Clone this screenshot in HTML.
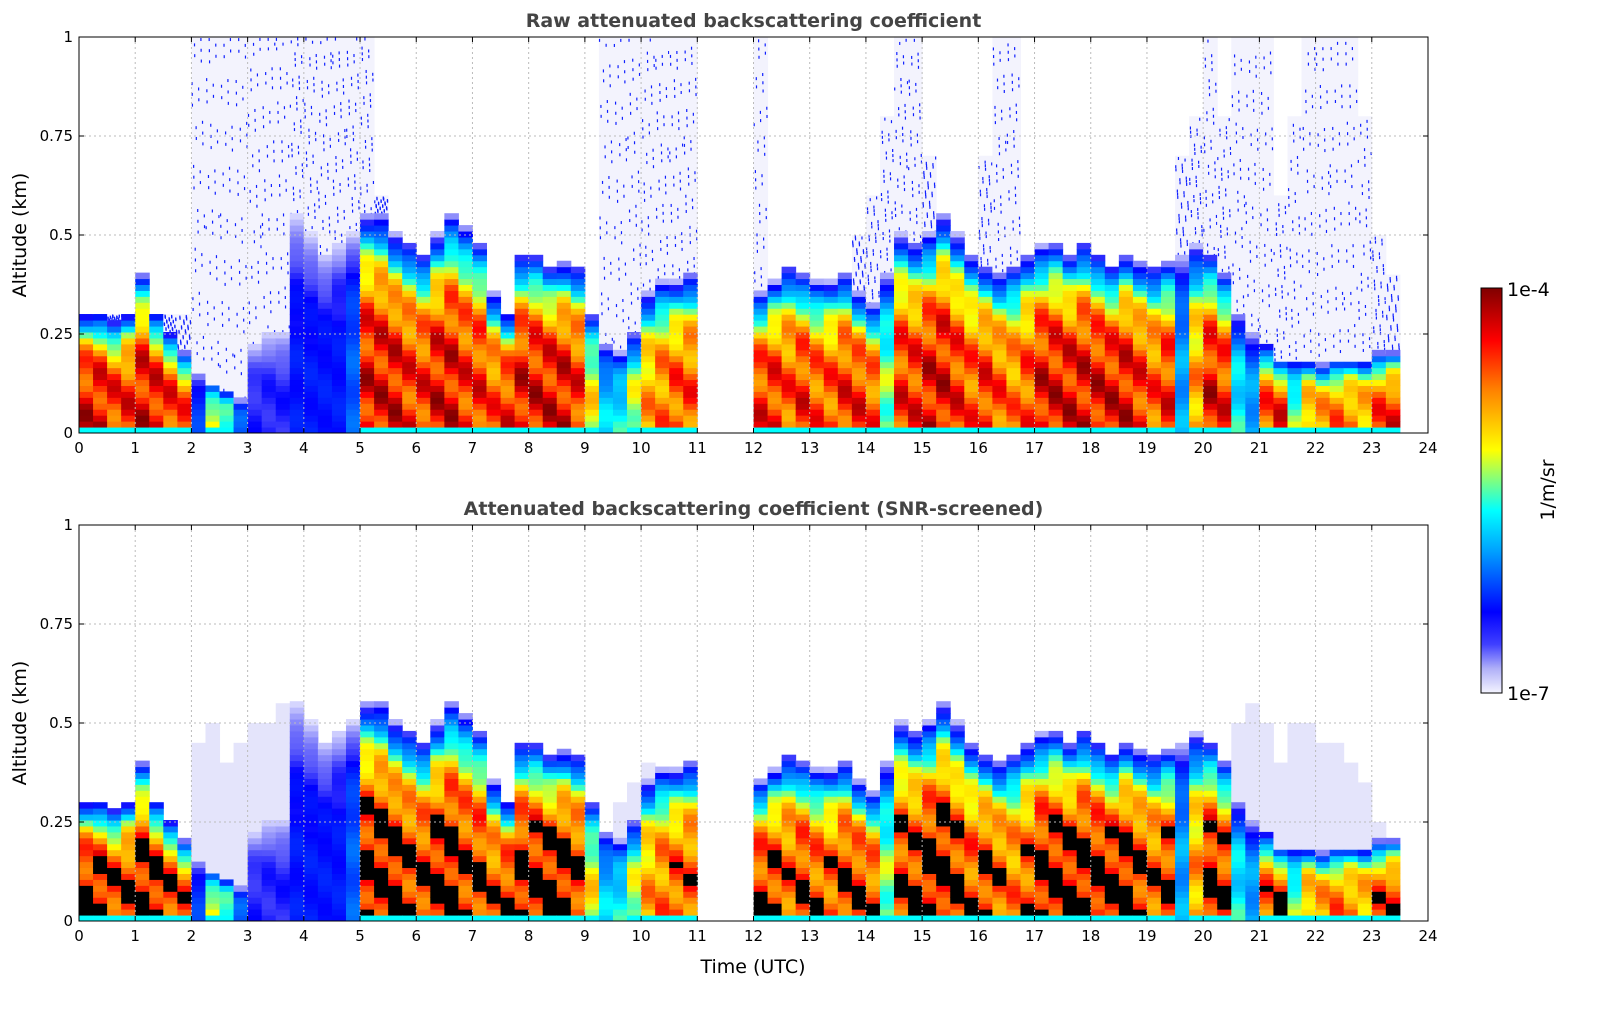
<!DOCTYPE html>
<html><head><meta charset="utf-8"><style>
body{margin:0;background:#fff;width:1621px;height:1020px;overflow:hidden;font-family:"Liberation Sans",sans-serif}
svg text{font-family:"DejaVu Sans","Liberation Sans",sans-serif}
</style></head><body>
<svg id="chart" width="1621" height="1020" xmlns="http://www.w3.org/2000/svg">
<defs>
<linearGradient id="jetg" x1="0" y1="1" x2="0" y2="0">
<stop offset="0" stop-color="#f4f4ff"/><stop offset="0.06" stop-color="#b0b0f8"/>
<stop offset="0.12" stop-color="#4040ff"/><stop offset="0.2" stop-color="#0000ff"/>
<stop offset="0.35" stop-color="#00a0ff"/><stop offset="0.45" stop-color="#00ffff"/>
<stop offset="0.6" stop-color="#ffff00"/><stop offset="0.75" stop-color="#ff8000"/>
<stop offset="0.87" stop-color="#ff0000"/><stop offset="1" stop-color="#800000"/>
</linearGradient>
</defs>
<g id="plots"></g>
</svg>
<script>
const times=[0,0.25,0.5,0.75,1,1.25,1.5,1.75,2,2.25,2.5,2.75,3,3.25,3.5,3.75,4,4.25,4.5,4.75,5,5.25,5.5,5.75,6,6.25,6.5,6.75,7,7.25,7.5,7.75,8,8.25,8.5,8.75,9,9.25,9.5,9.75,10,10.25,10.5,10.75,11,11.25,11.5,11.75,12,12.25,12.5,12.75,13,13.25,13.5,13.75,14,14.25,14.5,14.75,15,15.25,15.5,15.75,16,16.25,16.5,16.75,17,17.25,17.5,17.75,18,18.25,18.5,18.75,19,19.25,19.5,19.75,20,20.25,20.5,20.75,21,21.25,21.5,21.75,22,22.25,22.5,22.75,23,23.25];
const cloudTop=[0.3,0.3,0.28,0.3,0.4,0.3,0.25,0.2,0.15,0.12,0.1,0.08,0.22,0.25,0.25,0.55,0.5,0.45,0.48,0.5,0.55,0.55,0.5,0.48,0.45,0.5,0.55,0.52,0.48,0.35,0.3,0.45,0.45,0.42,0.43,0.42,0.3,0.22,0.2,0.25,0.35,0.38,0.38,0.4,0,0,0,0,0.35,0.38,0.42,0.4,0.38,0.38,0.4,0.35,0.32,0.4,0.5,0.48,0.5,0.55,0.5,0.45,0.42,0.4,0.42,0.45,0.47,0.48,0.45,0.48,0.45,0.42,0.45,0.43,0.42,0.43,0.45,0.47,0.45,0.4,0.3,0.25,0.22,0.18,0.18,0.18,0.17,0.18,0.18,0.18,0.2,0.2];
const coreValue=[1,1,0.95,0.95,1,1,0.95,0.9,0.25,0.7,0.6,0.3,0.15,0.15,0.15,0.2,0.2,0.2,0.2,0.3,1,1,1,0.95,0.95,1,1,0.95,0.95,0.9,0.95,1,1,1,1,0.95,0.7,0.45,0.5,0.65,0.8,0.85,0.9,0.9,0,0,0,0,0.95,0.95,0.9,0.95,0.9,0.9,0.95,0.95,0.9,0.6,0.95,0.95,1,1,0.95,0.9,0.95,0.9,0.85,0.9,1,1,1,1,1,1,1,0.95,0.9,0.95,0.4,0.8,1,0.95,0.5,0.4,0.9,0.95,0.6,0.8,0.8,0.85,0.85,0.8,0.9,0.95];
const noiseTop=[0.3,0.3,0.3,0.3,0.3,0.3,0.3,0.3,1,1,1,1,1,1,1,1,1,1,1,1,1,0.6,0.5,0,0,0,0,0,0,0,0,0,0,0,0,0,0,1,1,1,1,1,1,1,0,0,0,0,1,0,0,0,0,0,0,0.5,0.6,0.8,1,1,0.7,0,0,0,0.7,1,1,0,0,0,0,0,0,0,0,0,0,0,0.7,0.8,1,0.8,1,1,1,0.6,0.8,1,1,1,1,0.8,0.5,0.4];
const hazeTop=[0,0,0,0,0,0,0,0,0.45,0.5,0.4,0.45,0.5,0.5,0.55,0.5,0.48,0.45,0.42,0.4,0,0,0,0,0,0,0,0,0,0,0,0,0,0,0,0,0,0,0.3,0.35,0.4,0,0,0,0,0,0,0,0,0,0,0,0,0,0,0,0,0,0,0,0,0,0,0,0,0,0,0,0,0,0,0,0,0,0,0,0,0,0,0,0,0,0.5,0.55,0.5,0.4,0.5,0.5,0.45,0.45,0.4,0.35,0.25,0.2];
const xTicks=[0,1,2,3,4,5,6,7,8,9,10,11,12,13,14,15,16,17,18,19,20,21,22,23,24];
const yTicks=[0,0.25,0.5,0.75,1];
const yTickLabels=["0","0.25","0.5","0.75","1"];

const NS="http://www.w3.org/2000/svg";
const root=document.getElementById('plots');
const X0=79,X1=1428;
function xs(h){return X0+h*(X1-X0)/24;}
function mk(tag,attrs,parent){const e=document.createElementNS(NS,tag);for(const k in attrs)e.setAttribute(k,attrs[k]);(parent||root).appendChild(e);return e;}
function jet(v){
  const st=[[0,[230,230,255]],[0.08,[120,120,250]],[0.15,[0,0,255]],[0.35,[0,160,255]],[0.45,[0,255,255]],[0.6,[255,255,0]],[0.75,[255,128,0]],[0.87,[255,0,0]],[1,[128,0,0]]];
  v=Math.max(0,Math.min(1,v));
  for(let i=1;i<st.length;i++){if(v<=st[i][0]){const a=st[i-1],b=st[i],t=(v-a[0])/(b[0]-a[0]);return 'rgb('+a[1].map((c,j)=>Math.round(c+(b[1][j]-c)*t)).join(',')+')';}}
  return 'rgb(128,0,0)';
}
function drawPanel(top,bot,title,screened,pname){
  const ys=z=>bot-z*(bot-top);
  const g=mk('g',{});
  
  
  const dz=0.015,dt=0.25;
  for(let i=0;i<times.length;i++){
    const t=times[i],ct=cloudTop[i],cv=coreValue[i];
    const x=xs(t),w=xs(t+dt)-x+0.5;
    if(!screened&&noiseTop[i]>0){
      const r=mk('rect',{x:x,y:ys(noiseTop[i]),width:w,height:ys(ct)-ys(noiseTop[i]),fill:'#f3f3fd'},g);
      
      
      for(let k=0;k<40;k++){const zz=ct+(noiseTop[i]-ct)*((k*0.377+i*0.131)%1);
        const s=mk('rect',{x:x+((k*7.3+i*3.1)%13),y:ys(zz),width:1.2,height:3,fill:'#1020ff'},g);
        
        }
    }
    if(screened&&hazeTop[i]>0){
      const r=mk('rect',{x:x,y:ys(hazeTop[i]),width:w,height:ys(ct)-ys(hazeTop[i]),fill:'#e4e4fb'},g);
      
      
    }
    if(ct<=0)continue;
    for(let z=0;z<ct;z+=dz){
      const f=z/ct;
      let v=cv*(1-Math.pow(f,4))*(0.88+0.12*Math.sin(z*40+i*1.7));
      if(f>0.88)v=Math.min(v,0.18+(1-f)*1.5);
      if(z<0.01&&cv>0.5)v=Math.min(v,0.45);
      let col=jet(v);
      if(screened&&v>0.87&&f<0.55&&z>0.01)col='#000';
      const r=mk('rect',{x:x,y:ys(z+dz),width:w,height:ys(z)-ys(z+dz)+0.5,fill:col},g);
      
      
    }
  }
  for(const h of xTicks){if(h>0&&h<24){const l=mk('line',{x1:xs(h),x2:xs(h),y1:top,y2:bot,stroke:'#bbb','stroke-dasharray':'2,3'});}}
  for(const z of yTicks){if(z>0&&z<1){const l=mk('line',{x1:X0,x2:X1,y1:ys(z),y2:ys(z),stroke:'#bbb','stroke-dasharray':'2,3'});}}
  const fr=mk('rect',{x:X0,y:top,width:X1-X0,height:bot-top,fill:'none',stroke:'#000','stroke-width':1});
  
  for(const h of xTicks){
    mk('line',{x1:xs(h),x2:xs(h),y1:bot,y2:bot-5,stroke:'#000'});mk('line',{x1:xs(h),x2:xs(h),y1:top,y2:top+5,stroke:'#000'});
    const tx=mk('text',{x:xs(h),y:bot+20,'text-anchor':'middle','font-size':15});tx.textContent=h;
    
  }
  yTicks.forEach((z,k)=>{
    mk('line',{x1:X0,x2:X0+5,y1:ys(z),y2:ys(z),stroke:'#000'});mk('line',{x1:X1,x2:X1-5,y1:ys(z),y2:ys(z),stroke:'#000'});
    const tx=mk('text',{x:X0-6,y:ys(z)+5,'text-anchor':'end','font-size':15});tx.textContent=yTickLabels[k];
    
  });
  const tt=mk('text',{x:(X0+X1)/2,y:top-10,'text-anchor':'middle','font-size':19,'font-weight':'bold',fill:'#444'});tt.textContent=title;
  
  const yl=mk('text',{x:0,y:0,'text-anchor':'middle','font-size':19,transform:'translate(26,'+((top+bot)/2)+') rotate(-90)'});yl.textContent='Altitude (km)';
  
}
drawPanel(37,433,'Raw attenuated backscattering coefficient',false,'raw-panel');
drawPanel(525,921,'Attenuated backscattering coefficient (SNR-screened)',true,'screened-panel');
const xl=mk('text',{x:753,y:973,'text-anchor':'middle','font-size':19});xl.textContent='Time (UTC)';

const cb=mk('rect',{x:1481,y:288,width:21,height:405,fill:'url(#jetg)',stroke:'#000'});

const c1=mk('text',{x:1507,y:296,'font-size':19});c1.textContent='1e-4';

const c2=mk('text',{x:1507,y:700,'font-size':19});c2.textContent='1e-7';

const cu=mk('text',{x:0,y:0,'text-anchor':'middle','font-size':19,transform:'translate(1554,490) rotate(-90)'});cu.textContent='1/m/sr';

</script>
</body></html>
